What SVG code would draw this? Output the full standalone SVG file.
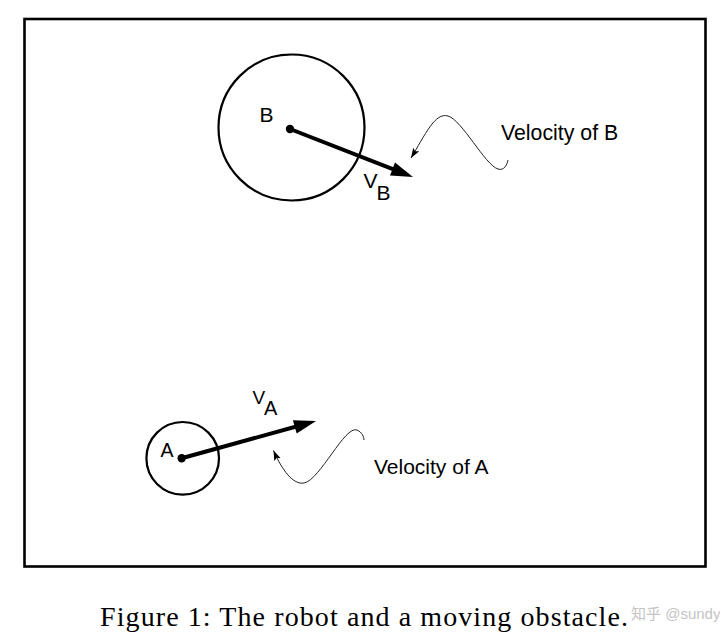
<svg xmlns="http://www.w3.org/2000/svg" width="720" height="643" viewBox="0 0 720 643">
<style>
.lbl{font-family:"Liberation Sans",Arial,sans-serif;fill:#000}
.ring{fill:none;stroke:#000;stroke-width:2.2}
.vec{stroke:#000;stroke-width:4;fill:none}
.head{fill:#000}
.sq{fill:none;stroke:#222;stroke-width:1}
</style>
<defs>
<marker id="sm" markerUnits="userSpaceOnUse" markerWidth="12" markerHeight="8" refX="10" refY="3.5" orient="auto-start-reverse" viewBox="0 0 12 8">
<path d="M0,0 L10,3.5 L0,7 L2,3.5 z" fill="#000"/>
</marker>
</defs>
<rect width="720" height="643" fill="#fff"/>
<rect x="24.5" y="19" width="681" height="547.5" fill="none" stroke="#000" stroke-width="2.6"/>

<g id="nodeB">
<circle class="ring" cx="291.5" cy="127.5" r="73"/>
<circle cx="290" cy="129" r="4.2" fill="#000"/>
<text class="lbl" x="259.5" y="122" font-size="21">B</text>
</g>

<g id="nodeA">
<circle class="ring" cx="182.7" cy="458.3" r="36.3"/>
<circle cx="181.7" cy="458.3" r="4.2" fill="#000"/>
<text class="lbl" x="160.5" y="456.5" font-size="19.5">A</text>
</g>

<g id="connectors">
<line class="vec" x1="290" y1="129" x2="401.8" y2="172.6"/>
<polygon class="head" points="413,177 390,175.5 395,162.5"/>
<line class="vec" x1="181.7" y1="458.3" x2="304.4" y2="424.2"/>
<polygon class="head" points="316,421 296.7,433.6 292.9,420.2"/>
<path class="sq" marker-start="url(#sm)" d="M411,158 C425,135 435,112 448,116 C462,120 485,165 498,169 C504,171 507,165 508,160"/>
<path class="sq" marker-start="url(#sm)" d="M273.5,450.5 C282,470 293,485 304,483 C320,480 345,425 357,430 C362,432 364,437 364,440"/>
</g>

<g id="labels">
<text class="lbl" x="363.5" y="188" font-size="21">V</text>
<text class="lbl" x="376.5" y="199.5" font-size="21">B</text>
<text class="lbl" x="252.5" y="403.5" font-size="19">V</text>
<text class="lbl" x="264" y="414.5" font-size="20">A</text>
<text class="lbl" x="501" y="140" font-size="21.3">Velocity of B</text>
<text class="lbl" x="374" y="473.5" font-size="21">Velocity of A</text>
</g>

<text x="100" y="626" font-family="'Liberation Serif','Times New Roman',serif" font-size="28" textLength="528" lengthAdjust="spacing" fill="#000">Figure 1: The robot and a moving obstacle.</text>
<text x="631" y="619" font-family="'Liberation Sans','Noto Sans CJK SC',sans-serif" font-size="15" fill="#c4c4c4">知乎 @sundy</text>
</svg>
